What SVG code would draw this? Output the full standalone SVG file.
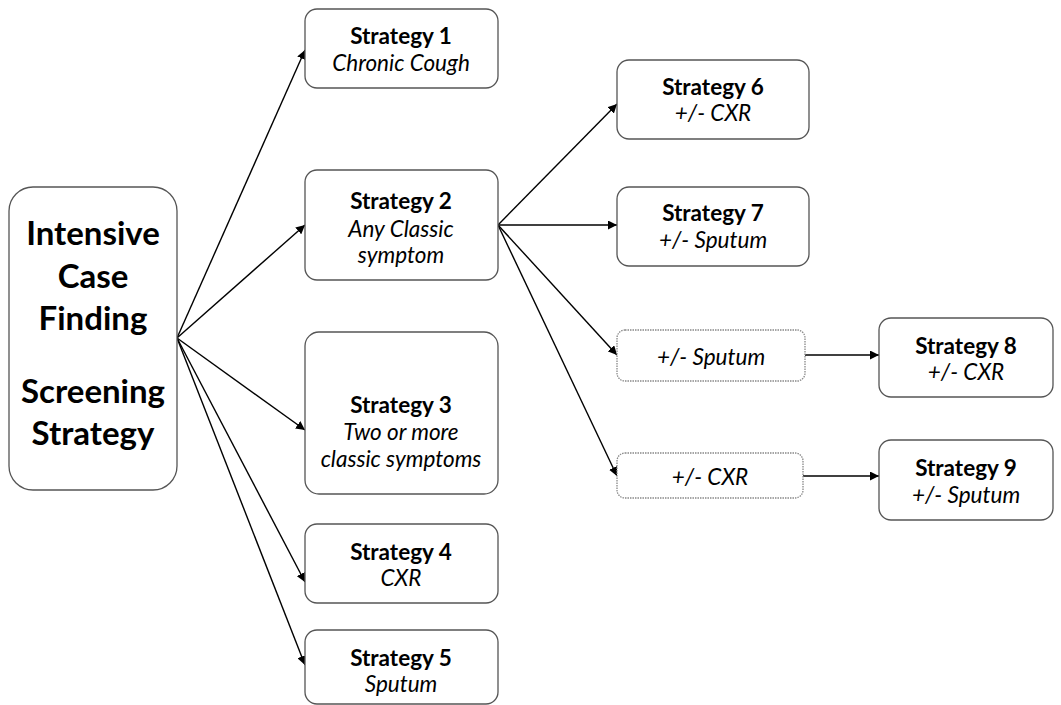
<svg xmlns="http://www.w3.org/2000/svg" width="1061" height="705" viewBox="0 0 1061 705">
<defs>
<marker id="ah" viewBox="0 0 10 10" refX="10" refY="5" markerWidth="9" markerHeight="9" markerUnits="userSpaceOnUse" orient="auto"><path d="M0,0 L10,5 L0,10 z" fill="#000"/></marker>
<style>
.box{fill:#fff;stroke:#555;stroke-width:1.3}
.dot{fill:#fff;stroke:#888;stroke-width:1.3;stroke-dasharray:1.5 1}
.t{font-family:Lato,"Liberation Sans",sans-serif;font-size:22.5px;fill:#000;text-anchor:middle;dominant-baseline:central}
.b{font-weight:bold}
.i{font-style:italic}
.big{font-size:33px;font-weight:bold}
.c{stroke:#000;stroke-width:1.4;fill:none;marker-end:url(#ah)}
</style>
</defs>
<rect width="1061" height="705" fill="#fff"/>
<g id="connectors">
<line class="c" x1="177" y1="338" x2="305" y2="50"/>
<line class="c" x1="177" y1="338" x2="305" y2="225"/>
<line class="c" x1="177" y1="338" x2="305" y2="430"/>
<line class="c" x1="177" y1="338" x2="305" y2="582"/>
<line class="c" x1="177" y1="338" x2="305" y2="665"/>
<line class="c" x1="498" y1="225" x2="617" y2="104"/>
<line class="c" x1="498" y1="225" x2="617" y2="225"/>
<line class="c" x1="498" y1="225" x2="617" y2="355"/>
<line class="c" x1="498" y1="225" x2="617" y2="476"/>
<line class="c" x1="805" y1="355" x2="879" y2="355"/>
<line class="c" x1="803" y1="476" x2="879" y2="476"/>
</g>
<g id="main">
<rect class="box" x="9" y="187" width="168" height="303" rx="24"/>
<text class="t big" x="93" y="232">Intensive</text>
<text class="t big" x="93" y="275">Case</text>
<text class="t big" x="93" y="317">Finding</text>
<text class="t big" x="93" y="390">Screening</text>
<text class="t big" x="93" y="432">Strategy</text>
</g>
<g id="s1">
<rect class="box" x="305" y="9" width="193" height="79" rx="12"/>
<text class="t b" x="401" y="35">Strategy 1</text>
<text class="t i" x="401" y="62">Chronic Cough</text>
</g>
<g id="s2">
<rect class="box" x="305" y="170" width="193" height="110" rx="12"/>
<text class="t b" x="401" y="200">Strategy 2</text>
<text class="t i" x="401" y="228">Any Classic</text>
<text class="t i" x="401" y="254">symptom</text>
</g>
<g id="s3">
<rect class="box" x="305" y="332" width="193" height="162" rx="14"/>
<text class="t b" x="401" y="404">Strategy 3</text>
<text class="t i" x="401" y="431">Two or more</text>
<text class="t i" x="401" y="458">classic symptoms</text>
</g>
<g id="s4">
<rect class="box" x="305" y="524" width="193" height="79" rx="12"/>
<text class="t b" x="401" y="551">Strategy 4</text>
<text class="t i" x="401" y="577">CXR</text>
</g>
<g id="s5">
<rect class="box" x="305" y="630" width="193" height="74" rx="12"/>
<text class="t b" x="401" y="657">Strategy 5</text>
<text class="t i" x="401" y="683">Sputum</text>
</g>
<g id="s6">
<rect class="box" x="617" y="60" width="192" height="79" rx="12"/>
<text class="t b" x="713" y="86">Strategy 6</text>
<text class="t i" x="713" y="112">+/- CXR</text>
</g>
<g id="s7">
<rect class="box" x="617" y="187" width="192" height="79" rx="12"/>
<text class="t b" x="713" y="212">Strategy 7</text>
<text class="t i" x="713" y="239">+/- Sputum</text>
</g>
<g id="d1">
<rect class="dot" x="617" y="330" width="188" height="51" rx="8"/>
<text class="t i" x="711" y="356">+/- Sputum</text>
</g>
<g id="d2">
<rect class="dot" x="617" y="453" width="186" height="45" rx="8"/>
<text class="t i" x="710" y="476">+/- CXR</text>
</g>
<g id="s8">
<rect class="box" x="879" y="318" width="174" height="79" rx="12"/>
<text class="t b" x="966" y="345">Strategy 8</text>
<text class="t i" x="966" y="371">+/- CXR</text>
</g>
<g id="s9">
<rect class="box" x="879" y="440" width="174" height="80" rx="12"/>
<text class="t b" x="966" y="467">Strategy 9</text>
<text class="t i" x="966" y="494">+/- Sputum</text>
</g>
</svg>
